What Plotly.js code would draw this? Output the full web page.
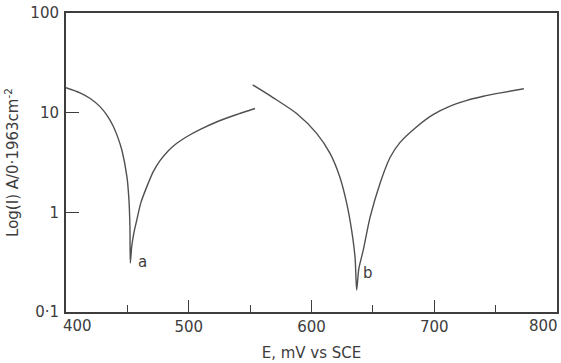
<!DOCTYPE html>
<html>
<head>
<meta charset="utf-8">
<script src="https://cdn.plot.ly/plotly-3.0.1.min.js"></script>
<style>html,body{margin:0;padding:0;background:#fff;}#chart{width:561px;height:363px;}</style>
</head>
<body>
<div id="chart"></div>
<script>
// Curve a (E in mV vs SCE, current)
const curveA_E = [400, 411.4, 420, 427.7, 433, 438.3, 442, 445.6, 449.7, 451.3, 452.1, 452.4, 453.5, 455.5, 457.6, 461, 465.7, 471, 476.6, 483, 490, 499, 509, 525, 540, 554];
const curveA_I = [17.8, 15.8, 13.8, 11.5, 9.55, 7.4, 5.75, 4.17, 2.24, 1.32, 0.71, 0.31, 0.45, 0.64, 0.83, 1.25, 1.79, 2.55, 3.3, 4.1, 4.9, 5.8, 6.76, 8.3, 9.66, 11];
// Curve b
const curveB_E = [552.1, 568.9, 587.9, 604.2, 615.1, 623.2, 628.7, 632.7, 635.5, 636.8, 638.5, 642.2, 647.7, 655.8, 664, 672, 685, 699, 712, 726, 740, 754, 773];
const curveB_I = [19, 14.1, 9.8, 6.2, 3.9, 2.24, 1.23, 0.66, 0.35, 0.166, 0.27, 0.42, 0.89, 1.95, 3.55, 5.0, 7.1, 9.55, 11.5, 13.2, 14.6, 15.8, 17.4];
// Tick labels
const yTickVals = [0.1, 1, 10, 100];
const yTickText = ["0·1", "1", "10", "100"];
const xTickVals = [400, 500, 600, 700, 800];
const xTickText = ["400", "500", "600", "700", "800"];
const xEdgeLabelShift = {400: 11, 800: -14};
const curveLabels = ["a", "b"];
const labelE = [462.5, 646];
const labelI = [0.32, 0.245];

const ink = "#3d3d3d";
const lineStyle = {color: "#505050", width: 1.4, shape: "spline", smoothing: 0.7};

const data = [
  {x: curveA_E, y: curveA_I, mode: "lines", line: lineStyle, hoverinfo: "skip"},
  {x: curveB_E, y: curveB_I, mode: "lines", line: lineStyle, hoverinfo: "skip"}
];

// edge tick labels (400, 800) are drawn inside the frame as in the reference
const edgeLabels = xTickVals.filter(v => v in xEdgeLabelShift).map(v => ({
  x: v, y: 0, xref: "x", yref: "paper", yanchor: "top", yshift: -3,
  xshift: xEdgeLabelShift[v], text: xTickText[xTickVals.indexOf(v)],
  showarrow: false, font: {size: 15, color: ink}
}));

const layout = {
  width: 561, height: 363,
  margin: {l: 66, r: 4, t: 13, b: 51},
  paper_bgcolor: "#fff", plot_bgcolor: "#fff",
  showlegend: false,
  font: {family: "DejaVu Sans", color: ink, size: 14},
  xaxis: {
    range: [400, 800],
    tickvals: xTickVals,
    ticktext: xTickVals.map((v, i) => (v in xEdgeLabelShift) ? "" : xTickText[i]),
    ticks: "inside", ticklen: 12, tickwidth: 1.3, tickcolor: ink,
    minor: {dtick: 50, ticks: "inside", ticklen: 7, tickwidth: 1.2, tickcolor: ink},
    showline: true, linecolor: ink, linewidth: 2, mirror: true,
    showgrid: false, zeroline: false,
    tickfont: {size: 15, color: ink},
    title: {text: "E, mV vs SCE", font: {size: 15, color: ink}, standoff: 12}
  },
  yaxis: {
    type: "log",
    range: [-1, 2],
    tickvals: yTickVals,
    ticktext: yTickText,
    ticks: "inside", ticklen: 13, tickwidth: 1.3, tickcolor: ink,
    showline: true, linecolor: ink, linewidth: 2, mirror: true,
    showgrid: false, zeroline: false,
    tickfont: {size: 15, color: ink},
    ticklabelstandoff: 2,
    title: {text: "Log(I) A/0·1963cm<sup>-2</sup>", font: {size: 15, color: ink}, standoff: 8}
  },
  annotations: curveLabels.map((t, i) => ({
    x: labelE[i], y: Math.log10(labelI[i]), xref: "x", yref: "y",
    text: t, showarrow: false, font: {size: 15, color: ink}
  })).concat(edgeLabels)
};

Plotly.newPlot("chart", data, layout, {displayModeBar: false, staticPlot: true});
</script>
</body>
</html>
